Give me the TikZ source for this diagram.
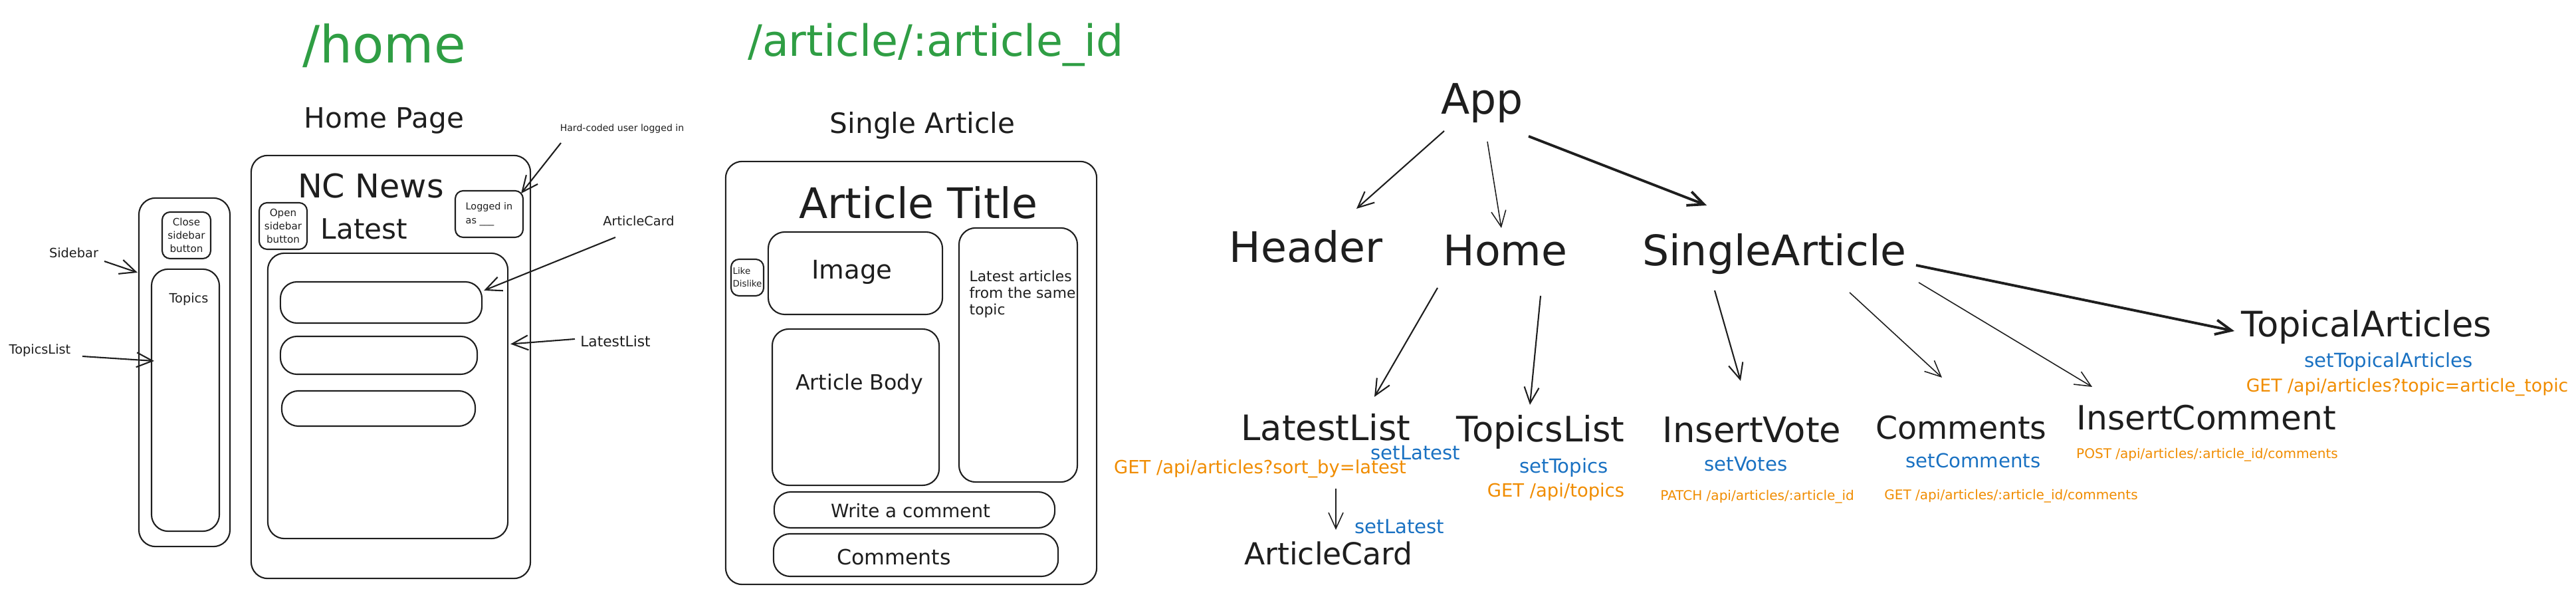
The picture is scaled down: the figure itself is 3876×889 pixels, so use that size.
\documentclass[tikz,border=0pt]{standalone}
\usepackage{fontspec}
\setmainfont{DejaVu Sans}
\usetikzlibrary{arrows.meta}
\definecolor{ink}{HTML}{1E1E1E}
\definecolor{inkgreen}{HTML}{2F9E44}
\definecolor{inkblue}{HTML}{1971C2}
\definecolor{inkorange}{HTML}{F08C00}

\tikzset{
	frame/.style={draw=ink, line width=0.6pt, rounded corners=2.5mm, inner sep=0pt, text=ink, align=center},
	smallframe/.style={frame, rounded corners=1.2mm},
	txt/.style={anchor=base, inner sep=0pt, text=ink},
	route/.style={txt, text=inkgreen},
	pagetitle/.style={txt, font=\fontsize{12}{14}\selectfont},
	note/.style={txt, font=\fontsize{5.5}{7}\selectfont},
	topcomp/.style={txt, font=\fontsize{18}{21}\selectfont},
	comp/.style={txt, font=\fontsize{15}{18}\selectfont},
	state/.style={txt, text=inkblue, font=\fontsize{8.3}{10}\selectfont},
	api/.style={txt, text=inkorange, font=\fontsize{7.8}{9}\selectfont},
	apismall/.style={api, font=\fontsize{5.7}{7}\selectfont},
	arr/.style={draw=ink, line width=0.6pt, -{Straight Barb[length=2.4mm,width=2.2mm]}},
	thinarr/.style={arr, line width=0.45pt},
	thickarr/.style={arr, line width=1.1pt},
}

\begin{document}
\begin{tikzpicture}[x=0.01cm,y=-0.01cm]
	\useasboundingbox (0,0) rectangle (3876,889);

	% home page wireframe
	\node[route, font=\fontsize{22}{26}\selectfont] (homeroute) at (578,95) {/home};
	\node[pagetitle] (hometitle) at (578,193) {Home Page};

	\node[frame, minimum width=1.37cm, minimum height=5.24cm] (sidebar) at (277.5,560) {};
	\node[smallframe, minimum width=0.73cm, minimum height=0.70cm, font=\fontsize{4.3}{5.7}\selectfont] (closebtn) at (280.5,354) {Close\\sidebar\\button};
	\node[frame, minimum width=1.02cm, minimum height=3.94cm] (topicsbox) at (279,602) {};
	\node[txt, font=\fontsize{5.5}{7}\selectfont] (topicstxt) at (284,456) {Topics};

	\node[frame, minimum width=4.20cm, minimum height=6.36cm] (homebox) at (588,552) {};
	\node[txt, font=\fontsize{14}{17}\selectfont] (ncnews) at (558,298) {NC News};
	\node[smallframe, minimum width=0.72cm, minimum height=0.70cm, font=\fontsize{4.3}{5.7}\selectfont] (openbtn) at (426,340) {Open\\sidebar\\button};
	\node[txt, font=\fontsize{12}{14}\selectfont] (latesttxt) at (548,360) {Latest};
	\node[smallframe, minimum width=1.02cm, minimum height=0.70cm, align=left, font=\fontsize{4.1}{6}\selectfont] (loggedbox) at (736,322) {Logged in\\as \_\_\_};
	\node[frame, minimum width=3.61cm, minimum height=4.29cm] (latestbox) at (583.5,595.5) {};
	\node[frame, minimum width=3.03cm, minimum height=0.62cm] (card1) at (573.5,455) {};
	\node[frame, minimum width=2.96cm, minimum height=0.57cm] (card2) at (570,534.5) {};
	\node[frame, minimum width=2.91cm, minimum height=0.53cm] (card3) at (569.5,614.5) {};

	\node[note, font=\fontsize{4}{5}\selectfont] (hardcoded) at (936,198) {Hard-coded user logged in};
	\node[note] (sidebarlbl) at (111,388) {Sidebar};
	\node[note] (topicslbl) at (60,533) {TopicsList};
	\node[note] (cardlbl) at (961,340) {ArticleCard};
	\node[note, font=\fontsize{6.2}{8}\selectfont] (latestlbl) at (926,522) {LatestList};

	\draw[arr] ([shift={(46,5)}]sidebarlbl.base) -- ([shift={(-1,-150)}]sidebar.west);
	\draw[arr] ([shift={(64,3)}]topicslbl.base) -- ([shift={(5,-59)}]topicsbox.west);
	\draw[arr] ([shift={(-92,17)}]hardcoded.base) -- ([shift={(-4,5)}]loggedbox.north east);
	\draw[arr] ([shift={(-35,17)}]cardlbl.base) -- ([shift={(2,-18)}]card1.east);
	\draw[arr] ([shift={(-61,-12)}]latestlbl.base) -- ([shift={(3,-78)}]latestbox.east);

	% single article wireframe
	\node[route, font=\fontsize{18.5}{22}\selectfont] (articleroute) at (1408,85) {/article/:article\_id};
	\node[pagetitle] (articletitle) at (1388,201) {Single Article};

	\node[frame, minimum width=5.58cm, minimum height=6.36cm] (articlebox) at (1371,561) {};
	\node[txt, font=\fontsize{18}{21}\selectfont] (titletxt) at (1382,329) {Article Title};
	\node[smallframe, minimum width=0.49cm, minimum height=0.55cm, align=left, font=\fontsize{3.8}{5.4}\selectfont] (likebox) at (1124.5,417.5) {Like\\Dislike};
	\node[frame, minimum width=2.62cm, minimum height=1.24cm] (imagebox) at (1287,411) {};
	\node[txt, font=\fontsize{11}{13}\selectfont] (imagetxt) at (1282,420) {Image};
	\node[frame, minimum width=2.51cm, minimum height=2.35cm] (bodybox) at (1287.5,612.5) {};
	\node[txt, font=\fontsize{9}{11}\selectfont] (bodytxt) at (1293,587) {Article Body};
	\node[frame, minimum width=1.78cm, minimum height=3.82cm] (topicbox) at (1532,534) {};
	\node[anchor=north west, inner sep=0pt, align=left, text=ink, font=\fontsize{6.2}{7.2}\selectfont] (topictxt) at (1458,406) {Latest articles\\from the same\\topic};
	\node[frame, minimum width=4.22cm, minimum height=0.54cm] (writebox) at (1376,767) {};
	\node[txt, font=\fontsize{7.9}{9}\selectfont] (writetxt) at (1370,779) {Write a comment};
	\node[frame, minimum width=4.28cm, minimum height=0.64cm] (commentsbox) at (1378,835) {};
	\node[txt, font=\fontsize{9}{11}\selectfont] (commentstxt) at (1345,850) {Comments};

	% component tree
	\node[topcomp] (app) at (2230,172) {App};
	\node[topcomp] (header) at (1965,395) {Header};
	\node[topcomp] (home) at (2265,400) {Home};
	\node[topcomp] (single) at (2670,400) {SingleArticle};

	\node[comp] (latestlist) at (1995,663) {LatestList};
	\node[comp] (topicslist) at (2318,665) {TopicsList};
	\node[comp] (insertvote) at (2636,666) {InsertVote};
	\node[comp, font=\fontsize{13.5}{16}\selectfont] (comments) at (2951,661) {Comments};
	\node[comp, font=\fontsize{14.3}{17}\selectfont] (insertcomment) at (3320,647) {InsertComment};
	\node[comp] (topical) at (3561,507) {TopicalArticles};
	\node[comp, font=\fontsize{13}{16}\selectfont] (articlecard) at (1999,850) {ArticleCard};

	\node[state] (setlatest) at (2130,692) {setLatest};
	\node[api] (getlatest) at (1896,713) {GET /api/articles?sort\_by=latest};
	\node[state] (setlatestcard) at (2106,803) {setLatest};
	\node[state] (settopics) at (2353,712) {setTopics};
	\node[api] (gettopics) at (2341,748) {GET /api/topics};
	\node[state] (setvotes) at (2627,709) {setVotes};
	\node[apismall] (patchvote) at (2644,753) {PATCH /api/articles/:article\_id};
	\node[state] (setcomments) at (2969,704) {setComments};
	\node[apismall] (getcomments) at (3026,752) {GET /api/articles/:article\_id/comments};
	\node[apismall] (postcomment) at (3321,690) {POST /api/articles/:article\_id/comments};
	\node[state] (settopical) at (3594,553) {setTopicalArticles};
	\node[api, font=\fontsize{7.6}{9}\selectfont] (gettopical) at (3622,590) {GET /api/articles?topic=article\_topic};

	\draw[arr] ([shift={(-57,25)}]app.base) -- ([shift={(76,-81)}]header.base);
	\draw[thinarr] ([shift={(8,41)}]app.base) -- ([shift={(-6,-57)}]home.base);
	\draw[thickarr] ([shift={(70,33)}]app.base) -- ([shift={(-102,-91)}]single.base);
	\draw[arr] ([shift={(-102,33)}]home.base) -- ([shift={(73,-66)}]latestlist.base);
	\draw[arr] ([shift={(53,45)}]home.base) -- ([shift={(-16,-56)}]topicslist.base);
	\draw[thinarr] ([shift={(15,72)}]latestlist.base) -- ([shift={(11,-53)}]articlecard.base);
	\draw[arr] ([shift={(-90,37)}]single.base) -- ([shift={(-17,-93)}]insertvote.base);
	\draw[thinarr] ([shift={(113,40)}]single.base) -- ([shift={(-29,-93)}]comments.base);
	\draw[thinarr] ([shift={(217,25)}]single.base) -- ([shift={(-172,-65)}]insertcomment.base);
	\draw[thickarr] ([shift={(213,-1)}]single.base) -- ([shift={(-199,-9)}]topical.base);
\end{tikzpicture}
\end{document}
